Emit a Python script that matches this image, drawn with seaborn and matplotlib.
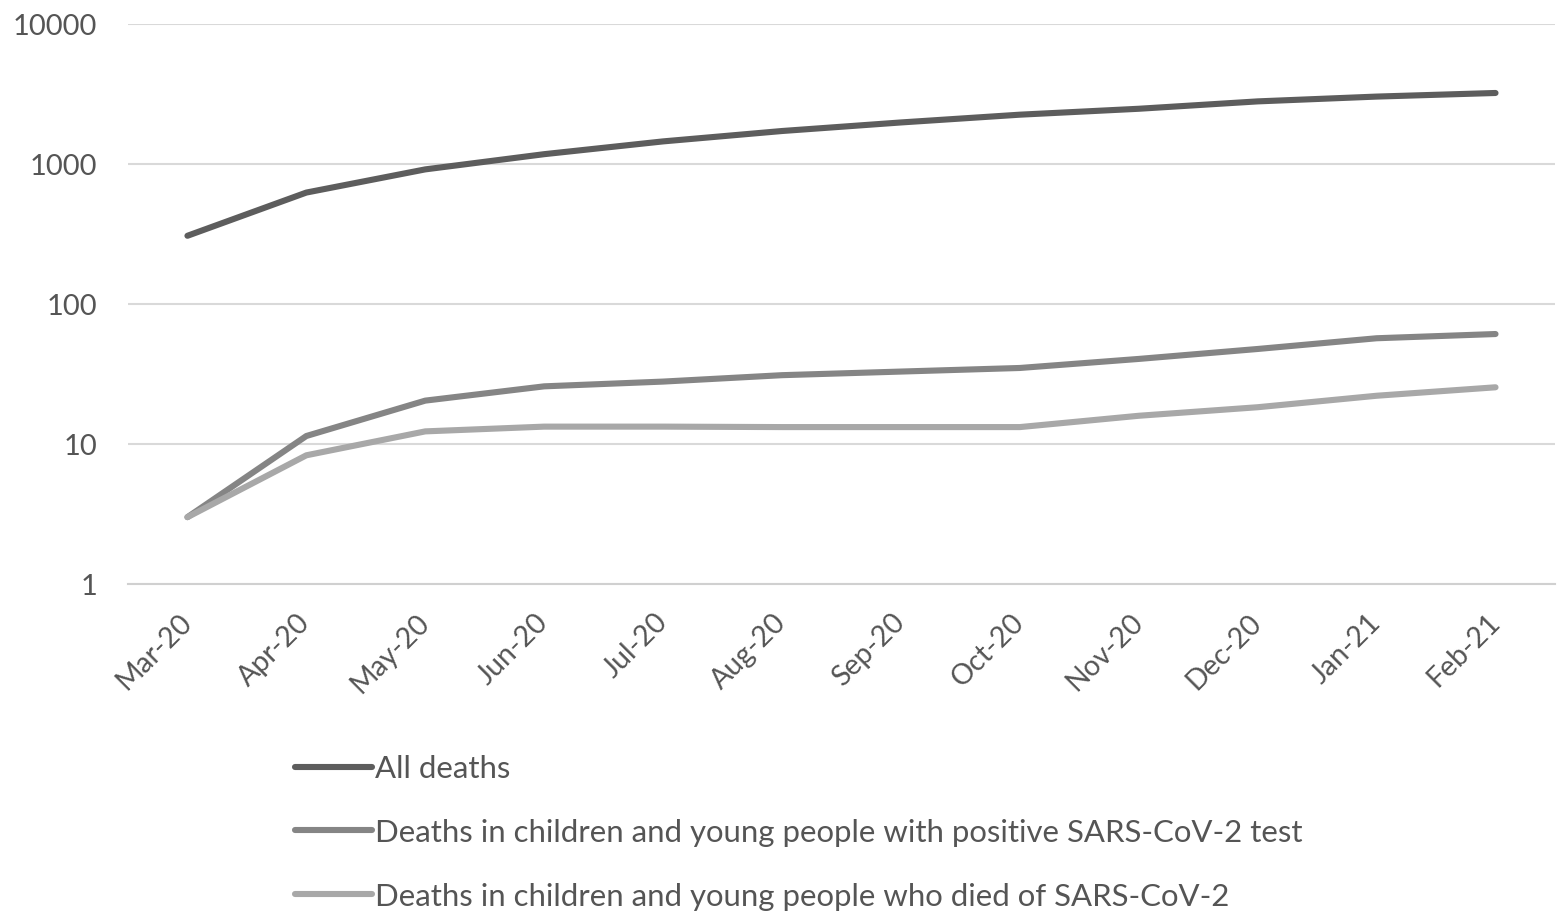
import pandas as pd
import numpy as np
import matplotlib
matplotlib.use('Agg')
import matplotlib.pyplot as plt
from matplotlib.ticker import FixedLocator, NullFormatter
import seaborn as sns

# data (log scale)
months = ['Mar-20', 'Apr-20', 'May-20', 'Jun-20', 'Jul-20', 'Aug-20',
          'Sep-20', 'Oct-20', 'Nov-20', 'Dec-20', 'Jan-21', 'Feb-21']
all_deaths = [307, 625, 915, 1175, 1450, 1720, 1980, 2250, 2480, 2800, 3030, 3215]
positive_test = [3, 11.4, 20.4, 25.8, 27.9, 31, 32.9, 34.9, 40.5, 47.7, 56.9, 61]
died_of = [3, 8.3, 12.3, 13.3, 13.3, 13.2, 13.2, 13.2, 15.9, 18.3, 22.1, 25.4]

labels = ['All deaths',
          'Deaths in children and young people with positive SARS-CoV-2 test',
          'Deaths in children and young people who died of SARS-CoV-2']
colors = ['#5d5d5d', '#858585', '#a8a8a8']

# long form table for seaborn
df = pd.DataFrame({
    'month': months * 3,
    'x': list(range(len(months))) * 3,
    'deaths': all_deaths + positive_test + died_of,
    'series': [labels[0]] * 12 + [labels[1]] * 12 + [labels[2]] * 12,
})

sns.set_theme(style='white')
plt.rcParams['font.family'] = ['Lato', 'DejaVu Sans']

fig = plt.figure(figsize=(15.57, 9.12), dpi=100)
ax = fig.add_axes([0.0822, 0.3586, 0.9165, 0.614])

sns.lineplot(data=df, x='x', y='deaths', hue='series', hue_order=labels,
             palette=colors, linewidth=4.4, ax=ax, legend=False,
             solid_capstyle='round', solid_joinstyle='round')

ax.set_yscale('log')
ax.set_ylim(1, 10000)
ax.set_yticks([1, 10, 100, 1000, 10000])
ax.set_yticklabels(['1', '10', '100', '1000', '10000'])
ax.yaxis.set_minor_formatter(NullFormatter())
ax.yaxis.set_minor_locator(FixedLocator([]))
ax.set_xlim(-0.5, 11.5)
ax.set_xticks(range(12))
ax.set_xticklabels(months, rotation=45, ha='right', va='center', rotation_mode='anchor')
ax.xaxis.set_minor_locator(FixedLocator(np.arange(-0.5, 12, 1)))

ax.grid(axis='y', color='#d9d9d9', linewidth=1.5)
ax.set_axisbelow(True)
for s in ['left', 'right', 'top']:
    ax.spines[s].set_visible(False)
ax.spines['bottom'].set_color('#d0d0d0')
ax.spines['bottom'].set_linewidth(1.5)

ax.tick_params(axis='y', length=0, labelsize=21, colors='#555555', pad=22)
ax.tick_params(axis='x', which='major', length=0, labelsize=20.5, colors='#555555', pad=24)
ax.tick_params(axis='x', which='minor', length=9, width=1.5, color='#d0d0d0')
ax.set_xlabel('')
ax.set_ylabel('')

handles = [plt.Line2D([], [], color=c, linewidth=4.4, solid_capstyle='round') for c in colors]
fig.legend(handles, labels, loc='upper left', bbox_to_anchor=(0.1815, 1 - 743 / 912),
           frameon=False, fontsize=22.4, labelcolor='#555555', handlelength=2.48,
           handletextpad=0.1, labelspacing=1.15, borderaxespad=0)

fig.savefig('out.png', dpi=100)
